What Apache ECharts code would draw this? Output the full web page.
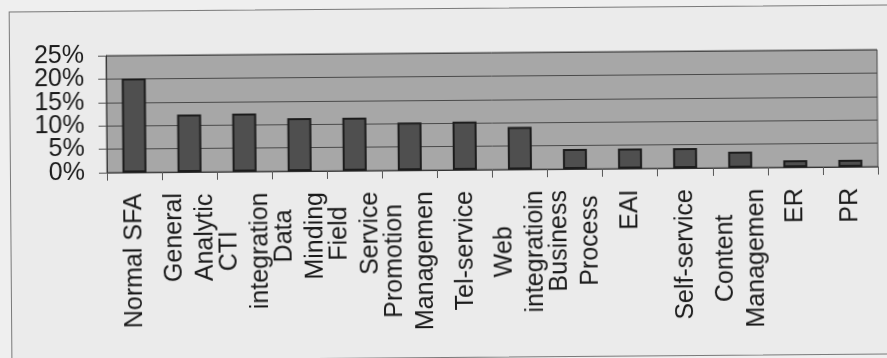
<!DOCTYPE html>
<html>
<head>
<meta charset="utf-8">
<script src="https://cdn.jsdelivr.net/npm/echarts@6/dist/echarts.min.js"></script>
<style>
  html, body { margin: 0; padding: 0; background: #efefef; overflow: hidden; }
  #wrap { position: relative; width: 887px; height: 358px; transform: rotate(-0.45deg); transform-origin: 50% 50%; }
  #frame { position: absolute; left: 10px; top: 8px; width: 900px; height: 348px; border: 1px solid #7a7a7a; background: #ebebeb; }
  #chart { position: absolute; left: 0; top: 0; width: 887px; height: 358px; }
</style>
</head>
<body>
<div id="wrap">
  <div id="frame"></div>
  <div id="chart"></div>
</div>
<script>
// Categories (two-word names wrap onto two lines)
const categories = [
  'Normal SFA', 'General\nAnalytic', 'CTI\nintegration', 'Data\nMinding',
  'Field\nService', 'Promotion\nManagemen', 'Tel-service', 'Web\nintegratioin',
  'Business\nProcess', 'EAI', 'Self-service', 'Content\nManagemen', 'ER', 'PR'
];
// Share of respondents, in percent
const shares = [20.1, 12.3, 12.4, 11.3, 11.3, 10.2, 10.3, 9.1, 4.3, 4.3, 4.3, 3.4, 1.5, 1.5];
// Value axis ticks, in percent
const yTicks = [0, 5, 10, 15, 20, 25];

const FONT = '"Liberation Sans", Arial, sans-serif';
const TEXT = '#1a1a1a';
const Y_MIN = yTicks[0];
const Y_MAX = yTicks[yTicks.length - 1];
const Y_STEP = yTicks[1] - yTicks[0];

// The tick labels sit very close together, so they are split over two
// overlaid label-only axes (alternate ticks) to keep every one visible.
function labelAxis(keepEven) {
  return {
    type: 'value',
    min: Y_MIN, max: Y_MAX, interval: Y_STEP,
    position: 'left',
    axisLine: { show: false },
    axisTick: { show: false },
    splitLine: { show: false },
    axisLabel: {
      margin: 22,
      showMinLabel: true,
      showMaxLabel: true,
      hideOverlap: false,
      color: TEXT,
      fontFamily: FONT,
      fontSize: 25,
      formatter: v => ((Math.round(v / Y_STEP) % 2 === 0) === keepEven ? v + '%' : '')
    }
  };
}

const chart = echarts.init(document.getElementById('chart'), null, { renderer: 'canvas' });
chart.setOption({
  animation: false,
  backgroundColor: 'transparent',
  grid: {
    left: 107, right: 9, top: 53, bottom: 188,
    show: true,
    backgroundColor: '#a7a7a7',
    borderColor: '#4a4a4a',
    borderWidth: 1,
    containLabel: false,
    outerBoundsMode: 'none'
  },
  xAxis: {
    type: 'category',
    data: categories,
    axisLine: { show: true, lineStyle: { color: '#333333', width: 1 } },
    axisTick: { show: true, length: 8, inside: false, alignWithLabel: false, lineStyle: { color: '#555555' } },
    axisLabel: {
      interval: 0,
      rotate: 90,
      margin: 21,
      hideOverlap: false,
      color: TEXT,
      fontFamily: FONT,
      fontSize: 25,
      lineHeight: 31,
      formatter: v => v.split('\n').map(s => '{c|' + s + '}').join('\n'),
      rich: {
        c: { align: 'center', fontFamily: FONT, fontSize: 25, lineHeight: 31, color: TEXT }
      }
    },
    splitLine: { show: false }
  },
  yAxis: [
    {
      type: 'value',
      min: Y_MIN, max: Y_MAX, interval: Y_STEP,
      position: 'left',
      axisLine: { show: true, lineStyle: { color: '#333333', width: 1 } },
      axisTick: { show: true, length: 8, inside: false, lineStyle: { color: '#555555' } },
      axisLabel: { show: false },
      splitLine: { show: true, lineStyle: { color: '#4a4a4a', width: 1 } }
    },
    labelAxis(true),
    labelAxis(false)
  ],
  series: [{
    type: 'bar',
    yAxisIndex: 0,
    data: shares,
    barWidth: 24,
    itemStyle: { color: '#4f4f4f', borderColor: '#1c1c1c', borderWidth: 2 }
  }]
});
</script>
</body>
</html>
